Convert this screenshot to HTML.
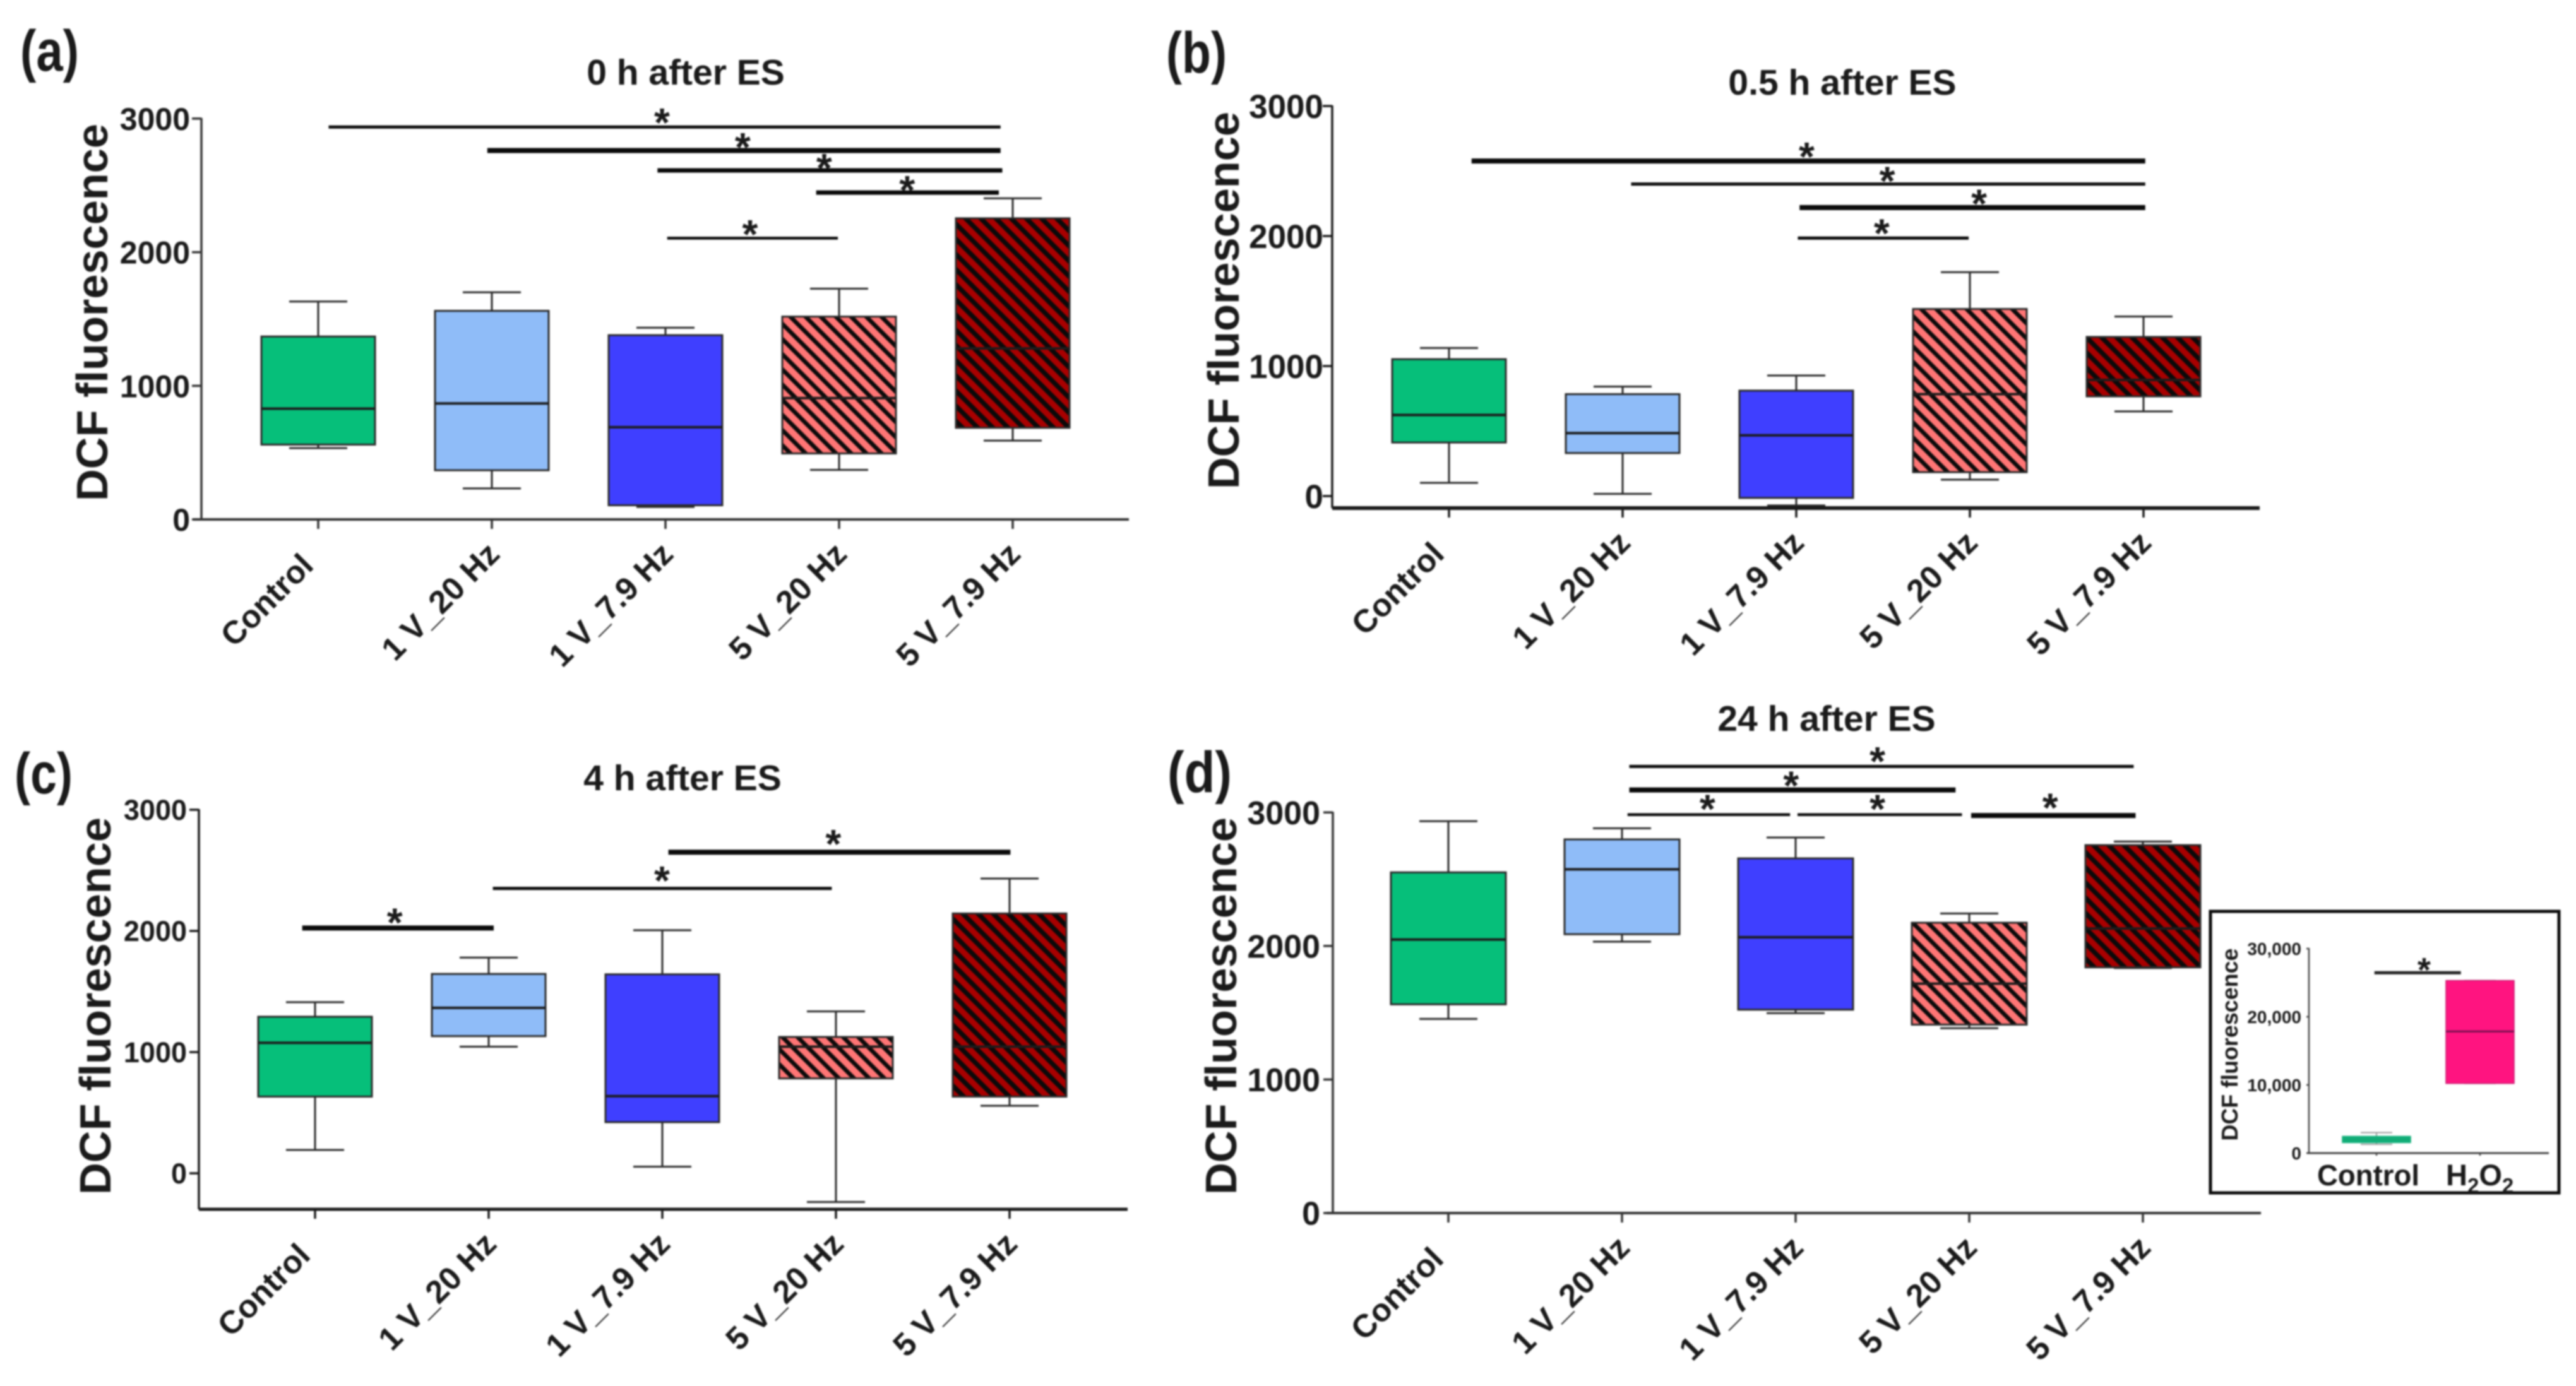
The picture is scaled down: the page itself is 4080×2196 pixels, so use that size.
<!DOCTYPE html>
<html lang="en">
<head>
<meta charset="utf-8">
<title>DCF fluorescence after ES</title>
<style>
html,body{margin:0;padding:0;background:#fff;}
svg{display:block;filter:blur(1.2px);}
text{font-family:"Liberation Sans",sans-serif;font-weight:bold;fill:#1a1a1a;}
</style>
</head>
<body>
<svg id="figure" width="4080" height="2196" viewBox="0 0 4080 2196" xmlns="http://www.w3.org/2000/svg">
  <defs>
    <pattern id="hatch-salmon" patternUnits="userSpaceOnUse" width="17" height="17" patternTransform="rotate(-45)">
      <rect width="17" height="17" fill="#ff7575"/>
      <rect width="6.7" height="17" fill="#0a0a0a"/>
    </pattern>
    <pattern id="hatch-darkred" patternUnits="userSpaceOnUse" width="17" height="17" patternTransform="rotate(-45)">
      <rect width="17" height="17" fill="#a80000"/>
      <rect width="7.5" height="17" fill="#0a0a0a"/>
    </pattern>
  </defs>
  <rect width="4080" height="2196" fill="#fff"/>

  <g id="panel-a">
    <text x="32" y="112" font-size="92" textLength="93" lengthAdjust="spacingAndGlyphs">(a)</text>
    <text x="1086" y="134" font-size="57" text-anchor="middle">0 h after ES</text>
    <text transform="translate(170 495) rotate(-90)" font-size="70" text-anchor="middle" textLength="598" lengthAdjust="spacingAndGlyphs">DCF fluorescence</text>
  </g>
  <g id="panel-b">
    <text x="1847" y="115" font-size="92" textLength="96" lengthAdjust="spacingAndGlyphs">(b)</text>
    <text x="2918" y="150" font-size="57" text-anchor="middle">0.5 h after ES</text>
    <text transform="translate(1962 476) rotate(-90)" font-size="70" text-anchor="middle" textLength="598" lengthAdjust="spacingAndGlyphs">DCF fluorescence</text>
  </g>
  <g id="panel-c">
    <text x="23" y="1257" font-size="92" textLength="92" lengthAdjust="spacingAndGlyphs">(c)</text>
    <text x="1081" y="1252" font-size="57" text-anchor="middle">4 h after ES</text>
    <text transform="translate(175 1594) rotate(-90)" font-size="70" text-anchor="middle" textLength="598" lengthAdjust="spacingAndGlyphs">DCF fluorescence</text>
  </g>
  <g id="panel-d">
    <text x="1849" y="1255" font-size="92" textLength="102" lengthAdjust="spacingAndGlyphs">(d)</text>
    <text x="2893" y="1158" font-size="57" text-anchor="middle">24 h after ES</text>
    <text transform="translate(1958 1594) rotate(-90)" font-size="70" text-anchor="middle" textLength="598" lengthAdjust="spacingAndGlyphs">DCF fluorescence</text>
  </g>
  <g id="panel-inset">
    <rect x="3501" y="1444" width="552" height="446" fill="#fff" stroke="#0a0a0a" stroke-width="5"/>
    <text transform="translate(3544 1655) rotate(-90)" font-size="36" text-anchor="middle" textLength="305" lengthAdjust="spacingAndGlyphs">DCF fluorescence</text>
    <text x="3751" y="1878" font-size="46" text-anchor="middle" textLength="162" lengthAdjust="spacingAndGlyphs">Control</text>
    <text x="3874" y="1878" font-size="47">H<tspan dy="12" font-size="33">2</tspan><tspan dy="-12">O</tspan><tspan dy="12" font-size="33">2</tspan></text>
  </g>
</svg>
<script>
// ---- shared labels ----
var categories = ['Control', '1 V_20 Hz', '1 V_7.9 Hz', '5 V_20 Hz', '5 V_7.9 Hz'];
var tickLabels = ['0', '1000', '2000', '3000'];
var tickValues = [0, 1000, 2000, 3000];
var boxFills = ['#06bf7a', '#8fbcf8', '#3f3fff', 'url(#hatch-salmon)', 'url(#hatch-darkred)'];

// ---- panel (a) values ----
var aHigh = [1631, 1700, 1435, 1727, 2403];
var aQ3 = [1369, 1561, 1379, 1518, 2254];
var aMedian = [829, 868, 690, 908, 1280];
var aQ1 = [560, 368, 106, 494, 686];
var aLow = [534, 232, 93, 371, 590];
var aSigFrom = [0.06, 0.974, 1.954, 2.868, 2.01];
var aSigTo = [3.93, 3.93, 3.94, 3.92, 2.993];
var aSigLevel = [2937, 2761, 2612, 2446, 2105];
var aSigWeight = [5, 8, 7, 7, 4.5];
var aStarAt = [1.98, 2.445, 2.914, 3.392, 2.487];
var aStarLevel = [3027, 2844, 2688, 2523, 2191];

// ---- panel (b) values ----
var bHigh = [1139, 842, 927, 1722, 1381];
var bQ3 = [1053, 784, 811, 1439, 1224];
var bMedian = [624, 484, 467, 784, 893];
var bQ1 = [412, 331, -14, 184, 767];
var bLow = [102, 17, -72, 126, 651];
var bSigFrom = [0.13, 1.049, 2.019, 2.009];
var bSigTo = [4.01, 4.01, 4.01, 2.993];
var bSigLevel = [2577, 2400, 2219, 1984];
var bSigWeight = [8, 5, 8, 5];
var bStarAt = [2.06, 2.524, 3.053, 2.492];
var bStarLevel = [2669, 2482, 2308, 2079];

// ---- panel (c) values ----
var cHigh = [1412, 1780, 2006, 1336, 2432];
var cQ3 = [1292, 1645, 1642, 1125, 2144];
var cMedian = [1077, 1365, 637, 1045, 1045];
var cQ1 = [633, 1132, 422, 783, 633];
var cLow = [193, 1045, 55, -237, 557];
var cSigFrom = [-0.074, 1.024, 2.035];
var cSigTo = [1.029, 2.976, 4.005];
var cSigLevel = [2024, 2351, 2650];
var cSigWeight = [8, 5, 8];
var cStarAt = [0.459, 1.998, 2.985];
var cStarLevel = [2133, 2479, 2781];

// ---- panel (d) values ----
var dHigh = [2934, 2881, 2812, 2243, 2782];
var dQ3 = [2551, 2798, 2656, 2174, 2755];
var dMedian = [2048, 2574, 2065, 1718, 2131];
var dQ1 = [1563, 2088, 1523, 1411, 1840];
var dLow = [1454, 2032, 1497, 1384, 1835];
var dSigFrom = [1.042, 1.042, 1.032, 2.011, 3.011];
var dSigTo = [3.947, 2.921, 1.968, 2.958, 3.958];
var dSigLevel = [3344, 3168, 2983, 2983, 2977];
var dSigWeight = [5, 8, 4.5, 4.5, 8];
var dStarAt = [2.471, 1.974, 1.492, 2.471, 3.466];
var dStarLevel = [3439, 3258, 3083, 3083, 3093];

// ---- inset values ----
var insetHigh = [3015, 25320];
var insetQ3 = [2460, 25320];
var insetMedian = [2000, 17850];
var insetQ1 = [1540, 10220];
var insetLow = [1292, 10220];
var insetTickValues = [0, 10000, 20000, 30000];
var insetTickLabels = ['0', '10,000', '20,000', '30,000'];
var insetFills = ['#12b07a', '#ff1480'];
var insetBoxStrokes = ['#12b07a', '#c8186e'];
var insetMedianColors = ['#12a874', '#7a1050'];
var insetSigFrom = [-0.02];
var insetSigTo = [0.815];
var insetSigLevel = [26460];
var insetSigWeight = [5];
var insetStarAt = [0.46];
var insetStarLevel = [27850];

var SVG_NS = 'http://www.w3.org/2000/svg';

function draw(parent, tag, attrs) {
  var el = document.createElementNS(SVG_NS, tag);
  for (var k in attrs) { el.setAttribute(k, attrs[k]); }
  parent.appendChild(el);
  return el;
}

function drawLine(parent, x1, y1, x2, y2, color, width) {
  return draw(parent, 'line', { x1: x1, y1: y1, x2: x2, y2: y2, stroke: color, 'stroke-width': width });
}

function drawPanel(cfg) {
  var g = document.getElementById(cfg.id);
  var yScale = function (v) { return cfg.zeroY - v * cfg.pxPerUnit; };
  var xScale = function (c) { return cfg.firstX + c * cfg.stepX; };
  var el;

  // boxes & whiskers
  for (var i = 0; i < cfg.high.length; i++) {
    var cx = xScale(i);
    var capColor = cfg.capColor || '#2a2a2a';
    el = drawLine(g, cx, yScale(cfg.high[i]), cx, yScale(cfg.q3[i]), capColor, cfg.whiskerWidth);
    
    
    el = drawLine(g, cx - cfg.capHalf, yScale(cfg.high[i]), cx + cfg.capHalf, yScale(cfg.high[i]), capColor, cfg.whiskerWidth);
    
    
    el = drawLine(g, cx, yScale(cfg.q1[i]), cx, yScale(cfg.low[i]), capColor, cfg.whiskerWidth);
    
    
    el = drawLine(g, cx - cfg.capHalf, yScale(cfg.low[i]), cx + cfg.capHalf, yScale(cfg.low[i]), capColor, cfg.whiskerWidth);
    
    

    el = draw(g, 'rect', {
      x: cx - cfg.boxHalf, y: yScale(cfg.q3[i]),
      width: cfg.boxHalf * 2, height: yScale(cfg.q1[i]) - yScale(cfg.q3[i]),
      fill: cfg.fills[i], stroke: cfg.boxStrokes ? cfg.boxStrokes[i] : cfg.boxStroke, 'stroke-width': cfg.boxStrokeWidth
    });
    
    

    el = drawLine(g, cx - cfg.boxHalf, yScale(cfg.median[i]), cx + cfg.boxHalf, yScale(cfg.median[i]), cfg.medianColors ? cfg.medianColors[i] : cfg.medianColor, cfg.medianWidth);
    
    
  }

  // axes
  var yAxisBottom = cfg.axisY;
  var yAxisTop = yScale(cfg.ticks[cfg.ticks.length - 1]);
  el = drawLine(g, cfg.axisX, yAxisTop - 1, cfg.axisX, yAxisBottom, cfg.axisColor, cfg.yAxisWidth);
  
  
  el = drawLine(g, cfg.axisStartX, cfg.axisY, cfg.axisEndX, cfg.axisY, cfg.axisColor, cfg.xAxisWidth);
  
  

  // y ticks
  for (var t = 0; t < cfg.ticks.length; t++) {
    var ty = yScale(cfg.ticks[t]);
    el = drawLine(g, cfg.axisX - cfg.yTickLen, ty, cfg.axisX, ty, cfg.axisColor, cfg.yAxisWidth);
    
    
    el = draw(g, 'text', {
      x: cfg.tickLabelRight, y: ty + cfg.tickFont * 0.36,
      'font-size': cfg.tickFont, 'text-anchor': 'end'
    });
    el.textContent = cfg.tickLabels[t];
    
    
  }

  // x ticks & labels
  for (var c = 0; c < cfg.xTickCount; c++) {
    var tx = xScale(c);
    el = drawLine(g, tx, cfg.axisY, tx, cfg.axisY + cfg.xTickLen, cfg.axisColor, cfg.yAxisWidth);
    
    
    if (cfg.labels) {
      // the short first label sits closer to its tick than the longer ones
      var lx = tx + (c === 0 ? -5 : 15);
      var ly = cfg.axisY + (c === 0 ? 76 : 58);
      el = draw(g, 'text', {
        x: lx, y: ly, 'font-size': 51, 'text-anchor': 'end',
        transform: 'rotate(-45 ' + lx + ' ' + ly + ')'
      });
      el.textContent = cfg.labels[c];
      
      
    }
  }

  // significance bars
  for (var s = 0; s < cfg.sigFrom.length; s++) {
    el = drawLine(g, xScale(cfg.sigFrom[s]), yScale(cfg.sigLevel[s]), xScale(cfg.sigTo[s]), yScale(cfg.sigLevel[s]), cfg.sigColor, cfg.sigWeight[s]);
    
    
  }
  for (var a = 0; a < cfg.starAt.length; a++) {
    el = draw(g, 'text', {
      x: xScale(cfg.starAt[a]), y: yScale(cfg.starLevel[a]) + cfg.starFont * 0.53,
      'font-size': cfg.starFont, 'text-anchor': 'middle'
    });
    el.textContent = '*';
    
    
  }
}

drawPanel({
  id: 'panel-a', high: aHigh, q3: aQ3, median: aMedian, q1: aQ1, low: aLow, fills: boxFills,
  labels: categories, ticks: tickValues, tickLabels: tickLabels, xTickCount: 5,
  sigFrom: aSigFrom, sigTo: aSigTo, sigLevel: aSigLevel, sigWeight: aSigWeight, sigColor: '#0a0a0a',
  starAt: aStarAt, starLevel: aStarLevel, starFont: 64,
  zeroY: 823, pxPerUnit: 0.2117, firstX: 504, stepX: 275,
  axisX: 319, axisY: 823, axisStartX: 306, axisEndX: 1788, axisColor: '#333', yAxisWidth: 3.5, xAxisWidth: 4,
  yTickLen: 15, xTickLen: 15, tickLabelRight: 301, tickFont: 50,
  boxHalf: 90, capHalf: 46, boxStroke: '#2a2a2a', boxStrokeWidth: 3, whiskerWidth: 3,
  medianColor: '#1c1c1c', medianWidth: 4
});
drawPanel({
  id: 'panel-b', high: bHigh, q3: bQ3, median: bMedian, q1: bQ1, low: bLow, fills: boxFills,
  labels: categories, ticks: tickValues, tickLabels: tickLabels, xTickCount: 5,
  sigFrom: bSigFrom, sigTo: bSigTo, sigLevel: bSigLevel, sigWeight: bSigWeight, sigColor: '#0a0a0a',
  starAt: bStarAt, starLevel: bStarLevel, starFont: 64,
  zeroY: 786, pxPerUnit: 0.206, firstX: 2295, stepX: 275,
  axisX: 2110, axisY: 805, axisStartX: 2110, axisEndX: 3579, axisColor: '#1a1a1a', yAxisWidth: 3.5, xAxisWidth: 6,
  yTickLen: 15, xTickLen: 15, tickLabelRight: 2096, tickFont: 53,
  boxHalf: 90, capHalf: 46, boxStroke: '#2a2a2a', boxStrokeWidth: 3, whiskerWidth: 3,
  medianColor: '#1c1c1c', medianWidth: 4
});
drawPanel({
  id: 'panel-c', high: cHigh, q3: cQ3, median: cMedian, q1: cQ1, low: cLow, fills: boxFills,
  labels: categories, ticks: tickValues, tickLabels: tickLabels, xTickCount: 5,
  sigFrom: cSigFrom, sigTo: cSigTo, sigLevel: cSigLevel, sigWeight: cSigWeight, sigColor: '#0a0a0a',
  starAt: cStarAt, starLevel: cStarLevel, starFont: 64,
  zeroY: 1859, pxPerUnit: 0.192, firstX: 499, stepX: 275,
  axisX: 315, axisY: 1916, axisStartX: 315, axisEndX: 1786, axisColor: '#1a1a1a', yAxisWidth: 3.5, xAxisWidth: 5,
  yTickLen: 15, xTickLen: 15, tickLabelRight: 296, tickFont: 45,
  boxHalf: 90, capHalf: 46, boxStroke: '#2a2a2a', boxStrokeWidth: 3, whiskerWidth: 3,
  medianColor: '#1c1c1c', medianWidth: 4
});
drawPanel({
  id: 'panel-d', high: dHigh, q3: dQ3, median: dMedian, q1: dQ1, low: dLow, fills: boxFills,
  labels: categories, ticks: tickValues, tickLabels: tickLabels, xTickCount: 5,
  sigFrom: dSigFrom, sigTo: dSigTo, sigLevel: dSigLevel, sigWeight: dSigWeight, sigColor: '#0a0a0a',
  starAt: dStarAt, starLevel: dStarLevel, starFont: 64,
  zeroY: 1922, pxPerUnit: 0.2116, firstX: 2294, stepX: 275,
  axisX: 2111, axisY: 1922, axisStartX: 2101, axisEndX: 3581, axisColor: '#333', yAxisWidth: 3.5, xAxisWidth: 4,
  yTickLen: 15, xTickLen: 15, tickLabelRight: 2091, tickFont: 52,
  boxHalf: 91, capHalf: 46, boxStroke: '#2a2a2a', boxStrokeWidth: 3, whiskerWidth: 3,
  medianColor: '#1c1c1c', medianWidth: 4
});
drawPanel({
  id: 'panel-inset', high: insetHigh, q3: insetQ3, median: insetMedian, q1: insetQ1, low: insetLow, fills: insetFills,
  labels: null, ticks: insetTickValues, tickLabels: insetTickLabels, xTickCount: 2,
  sigFrom: insetSigFrom, sigTo: insetSigTo, sigLevel: insetSigLevel, sigWeight: insetSigWeight, sigColor: '#222',
  starAt: insetStarAt, starLevel: insetStarLevel, starFont: 54,
  zeroY: 1827, pxPerUnit: 0.0108, firstX: 3764, stepX: 164,
  axisX: 3657, axisY: 1827, axisStartX: 3654, axisEndX: 4037, axisColor: '#444', yAxisWidth: 2.5, xAxisWidth: 3,
  yTickLen: 4, xTickLen: 4, tickLabelRight: 3645, tickFont: 28,
  boxHalf: 54, capHalf: 25, boxStrokes: insetBoxStrokes, boxStrokeWidth: 1.5, whiskerWidth: 2, capColor: '#999',
  medianColors: insetMedianColors, medianWidth: 3
});
</script>
</body>
</html>
